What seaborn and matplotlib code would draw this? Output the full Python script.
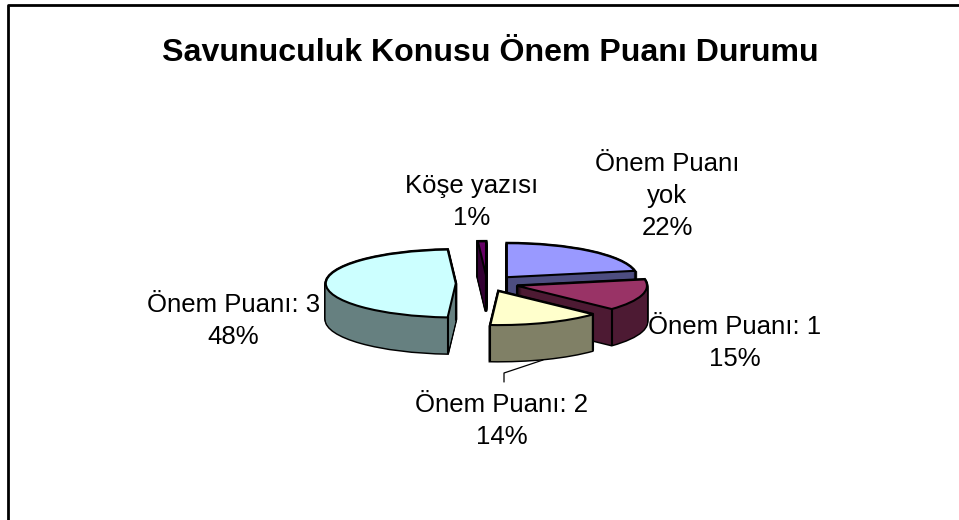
import numpy as np
import matplotlib
matplotlib.use('Agg')
import matplotlib.pyplot as plt
from matplotlib.lines import Line2D
import seaborn as sns

W, H = 959, 520

# dilimler: saat yonunde, 12 hizasindan baslar
categories = ['Önem Puanı\nyok', 'Önem Puanı: 1', 'Önem Puanı: 2', 'Önem Puanı: 3', 'Köşe yazısı']
values = [22, 15, 14, 48, 1]
top_colors = ['#9999FF', '#993366', '#FFFFCC', '#CCFFFF', '#660066']
side_colors = ['#4D4D80', '#4D1A33', '#808066', '#668080', '#330033']
draw_order = [0, 1, 4, 3, 2]
title = 'Savunuculuk Konusu Önem Puanı Durumu'
label_pos = [(667, 196), (734.5, 343), (501.5, 421), (233.5, 321), (472, 202)]

# pie geometry in pixels
CX, CY, RX, RY = 487, 283.5, 130, 34
DEPTH = 36
EXPLODE = 0.24

sns.set_theme(style='white')
plt.rcParams['font.family'] = ['Liberation Sans', 'DejaVu Sans']

fig = plt.figure(figsize=(W / 100, H / 100), dpi=100)
ax = fig.add_axes([0, 0, 1, 1])


def draw_pie(colors, shift, **kw):
    wedges, _ = ax.pie(values, explode=[EXPLODE] * len(values), colors=colors,
                       startangle=90, counterclock=False, center=(0, -shift),
                       radius=1, wedgeprops=kw)
    return wedges


step = 1 / RY
for k in range(DEPTH + 1):
    shift = k * step
    # black stack first gives the outline, the filled stack sits on it
    for i, w in enumerate(draw_pie(side_colors, shift, edgecolor='black', linewidth=2.1)):
        w.set_zorder(draw_order.index(i) * 10 + 1)
    for i, w in enumerate(draw_pie(side_colors, shift, linewidth=0)):
        w.set_zorder(draw_order.index(i) * 10 + 2)

for i, w in enumerate(draw_pie(top_colors, 0, edgecolor='black', linewidth=1.5)):
    w.set_zorder(draw_order.index(i) * 10 + 4)

# vertical edges on the visible corners
fracs = np.cumsum([0] + values) / sum(values) * 2 * np.pi
depth_units = DEPTH * step
for i in range(len(values)):
    a0, a1 = fracs[i], fracs[i + 1]
    mid = (a0 + a1) / 2
    ox, oy = EXPLODE * np.sin(mid), EXPLODE * np.cos(mid)
    z = draw_order.index(i) * 10 + 3
    xs = []
    ys = []
    for a in (a0, a1):
        if np.pi / 2 < a < 3 * np.pi / 2:
            xs.append(ox + np.sin(a))
            ys.append(oy + np.cos(a))
    if len(xs) < 2:
        xs.append(ox)
        ys.append(oy)
    for x, y in zip(xs, ys):
        ax.plot([x, x], [y, y - depth_units], color='black', lw=1.5, zorder=z)

ax.set_aspect('auto')
ax.set_xlim((0 - CX) / RX, (W - CX) / RX)
ax.set_ylim((CY - H) / RY, CY / RY)
ax.axis('off')


def px(x, y):
    return x / W, 1 - y / H


# chart frame: only the top and left edges fall inside the picture
fig.add_artist(Line2D(*zip(px(8, H), px(8, 5), px(W, 5)), color='black', lw=2))

# leader for the Puan 2 label
fig.add_artist(Line2D(*zip(px(543, 360), px(504, 373), px(504, 382)), color='black', lw=0.9))

fig.text(*px(490.5, 53), title, ha='center', va='center', fontsize=23.1, fontweight='bold', color='black')
for name, v, (x, y) in zip(categories, values, label_pos):
    fig.text(*px(x, y), f'{name}\n{v}%', ha='center', va='center', fontsize=18.5,
             color='black', linespacing=1.43)

fig.savefig('out.png', dpi=100)
